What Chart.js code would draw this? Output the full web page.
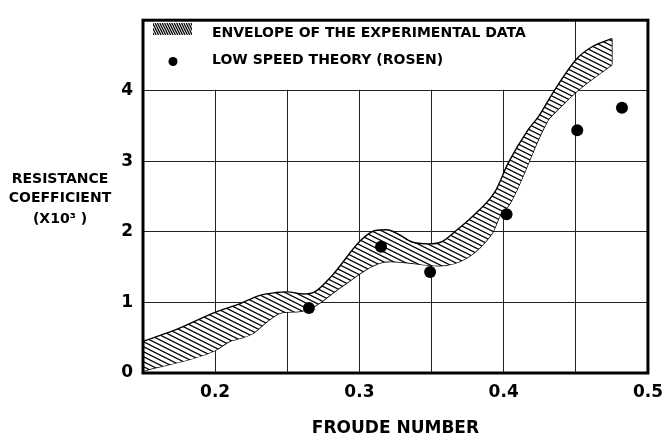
<!DOCTYPE html>
<html>
<head>
<meta charset="utf-8">
<script src="https://cdn.jsdelivr.net/npm/chart.js@4/dist/chart.umd.min.js"></script>
<style>
  html, body { margin: 0; padding: 0; background: #fff; }
  #wrap { width: 672px; height: 439px; }
</style>
</head>
<body>
<div id="wrap"><canvas id="chart" width="672" height="439"></canvas></div>
<script>
// Envelope of the experimental data: upper and lower boundaries (Froude number, Cr x 10^3)
const upperFroude = [0.150, 0.171, 0.200, 0.217, 0.231, 0.242, 0.250, 0.261, 0.269, 0.281, 0.301, 0.311, 0.319, 0.326, 0.336, 0.348, 0.357, 0.366, 0.380, 0.394, 0.403, 0.417, 0.424, 0.435, 0.451, 0.461, 0.475];
const upperCoef   = [0.45, 0.60, 0.86, 0.98, 1.10, 1.14, 1.15, 1.12, 1.15, 1.38, 1.88, 2.02, 2.03, 1.98, 1.86, 1.83, 1.86, 2.00, 2.25, 2.57, 2.97, 3.45, 3.63, 4.00, 4.46, 4.62, 4.74];
const lowerFroude = [0.150, 0.200, 0.210, 0.217, 0.226, 0.238, 0.247, 0.258, 0.270, 0.286, 0.316, 0.322, 0.355, 0.392, 0.398, 0.404, 0.431, 0.435, 0.450, 0.475];
const lowerCoef   = [0.03, 0.32, 0.45, 0.49, 0.56, 0.76, 0.86, 0.87, 0.96, 1.20, 1.57, 1.58, 1.52, 1.98, 2.25, 2.39, 3.59, 3.68, 3.98, 4.37];

// Low speed theory (Rosen)
const rosenFroude = [0.265, 0.315, 0.349, 0.402, 0.451, 0.482];
const rosenCoef   = [0.92, 1.79, 1.43, 2.25, 3.44, 3.76];

// Axis tick labels
const xTickLabels = ['0.2', '0.3', '0.4', '0.5'];
const yTickLabels = ['0', '1', '2', '3', '4'];

const seriesNames = ['ENVELOPE OF THE EXPERIMENTAL DATA', 'LOW SPEED THEORY (ROSEN)'];
const yTitleLines = ['RESISTANCE', 'COEFFICIENT', '(X10\u00B3 )'];
const xTitle = 'FROUDE NUMBER';

const FONT = 'DejaVu Sans';
Chart.defaults.font.family = FONT;
Chart.defaults.color = '#000';

const toPoints = (xs, ys) => xs.map((x, i) => ({ x, y: ys[i] }));

// Diagonal hatching used to fill the envelope
function makeHatch() {
  const c = document.createElement('canvas');
  c.width = 10; c.height = 5;
  const g = c.getContext('2d');
  g.fillStyle = '#fff';
  g.fillRect(0, 0, 10, 5);
  g.strokeStyle = '#000';
  g.lineWidth = 1.2;
  for (const dy of [-5, 0, 5]) {
    g.beginPath();
    g.moveTo(-2, dy - 1);
    g.lineTo(12, dy + 6);
    g.stroke();
  }
  return g.createPattern(c, 'repeat');
}
const hatch = makeHatch();

// White panel holding the legend (upper-left part of the frame)
const legendPanel = {
  id: 'legendPanel',
  beforeDatasetsDraw(chart) {
    const { ctx, chartArea, scales } = chart;
    const xr = scales.x.getPixelForValue(0.45);
    const yb = scales.y.getPixelForValue(4);
    ctx.save();
    ctx.fillStyle = '#fff';
    ctx.fillRect(chartArea.left, chartArea.top, xr - chartArea.left - 1, yb - chartArea.top - 1);
    ctx.restore();
  },
  afterDatasetsDraw(chart) {
    const { ctx } = chart;
    ctx.save();
    // hatched swatch
    const sx = 153, sy = 23, sw = 39, sh = 12;
    ctx.beginPath();
    ctx.rect(sx, sy, sw, sh);
    ctx.save();
    ctx.clip();
    ctx.strokeStyle = '#000';
    ctx.lineWidth = 1.3;
    for (let i = -10; i < sw + 10; i += 2.4) {
      ctx.beginPath();
      ctx.moveTo(sx + i, sy);
      ctx.lineTo(sx + i + 6, sy + sh);
      ctx.stroke();
    }
    ctx.restore();
    // dot marker
    ctx.fillStyle = '#000';
    ctx.beginPath();
    ctx.arc(173, 61.5, 4.5, 0, Math.PI * 2);
    ctx.fill();
    // texts
    ctx.font = 'bold 14px ' + FONT;
    ctx.textAlign = 'left';
    ctx.textBaseline = 'middle';
    ctx.fillText(chart.data.datasets[1].label, 212, 33);
    ctx.fillText(chart.data.datasets[0].label, 212, 60);
    ctx.restore();
  }
};

// Heavy frame round the plot and the horizontal y-axis title
const frame = {
  id: 'frame',
  afterDraw(chart) {
    const { ctx, chartArea: a } = chart;
    ctx.save();
    ctx.strokeStyle = '#000';
    ctx.lineWidth = 3;
    ctx.strokeRect(a.left, a.top, a.right - a.left, a.bottom - a.top);
    ctx.font = 'bold 14px ' + FONT;
    ctx.textAlign = 'center';
    ctx.textBaseline = 'middle';
    const ys = [179, 198, 219];
    yTitleLines.forEach((t, i) => ctx.fillText(t, 60, ys[i]));
    ctx.restore();
  }
};

const upperPts = toPoints(upperFroude, upperCoef);
const lowerPts = toPoints(lowerFroude, lowerCoef);

new Chart(document.getElementById('chart'), {
  type: 'line',
  data: {
    datasets: [
      {
        label: seriesNames[1],
        type: 'scatter',
        data: toPoints(rosenFroude, rosenCoef),
        pointRadius: 6,
        pointBackgroundColor: '#000',
        pointBorderWidth: 0,
        showLine: false,
        order: 0
      },
      {
        label: seriesNames[0],
        data: upperPts,
        borderColor: '#000',
        borderWidth: 1.4,
        pointRadius: 0,
        cubicInterpolationMode: 'monotone',
        fill: 2,
        backgroundColor: hatch,
        order: 1
      },
      {
        label: 'lower',
        data: lowerPts,
        borderColor: '#000',
        borderWidth: 1.4,
        pointRadius: 0,
        cubicInterpolationMode: 'monotone',
        fill: false,
        order: 2
      },
      {
        label: 'end',
        data: [upperPts[upperPts.length - 1], lowerPts[lowerPts.length - 1]],
        borderColor: '#000',
        borderWidth: 1.4,
        pointRadius: 0,
        fill: false,
        order: 3
      }
    ]
  },
  options: {
    responsive: false,
    devicePixelRatio: 1,
    animation: false,
    layout: { padding: { top: 11, right: 21, left: 0, bottom: 0 } },
    plugins: { legend: { display: false }, tooltip: { enabled: false } },
    scales: {
      x: {
        type: 'linear',
        min: 0.15,
        max: 0.5,
        afterFit: s => { s.height = 66; },
        afterBuildTicks: s => {
          const t = [];
          for (let k = 3; k <= 10; k++) t.push({ value: k / 20 });
          s.ticks = t;
        },
        ticks: {
          autoSkip: false,
          maxRotation: 0,
          padding: 9,
          font: { size: 17, weight: 'bold' },
          color: '#000',
          callback: v => {
            const i = Math.round(v * 10) - 2;
            return Math.abs(v * 10 - Math.round(v * 10)) < 1e-6 && i >= 0 ? xTickLabels[i] : '';
          }
        },
        grid: { color: '#222', lineWidth: 1, drawTicks: false },
        border: { display: false },
        title: { display: true, text: xTitle, font: { size: 17, weight: 'bold' }, color: '#000', padding: { top: 0, bottom: 0 } }
      },
      y: {
        min: 0,
        max: 5,
        afterFit: s => { s.width = 143; },
        afterBuildTicks: s => {
          s.ticks = [0, 1, 2, 3, 4, 5].map(v => ({ value: v }));
        },
        ticks: {
          padding: 10,
          font: { size: 17, weight: 'bold' },
          color: '#000',
          callback: v => yTickLabels[v] !== undefined ? yTickLabels[v] : ''
        },
        grid: { color: '#222', lineWidth: 1, drawTicks: false },
        border: { display: false }
      }
    }
  },
  plugins: [legendPanel, frame]
});
</script>
</body>
</html>
